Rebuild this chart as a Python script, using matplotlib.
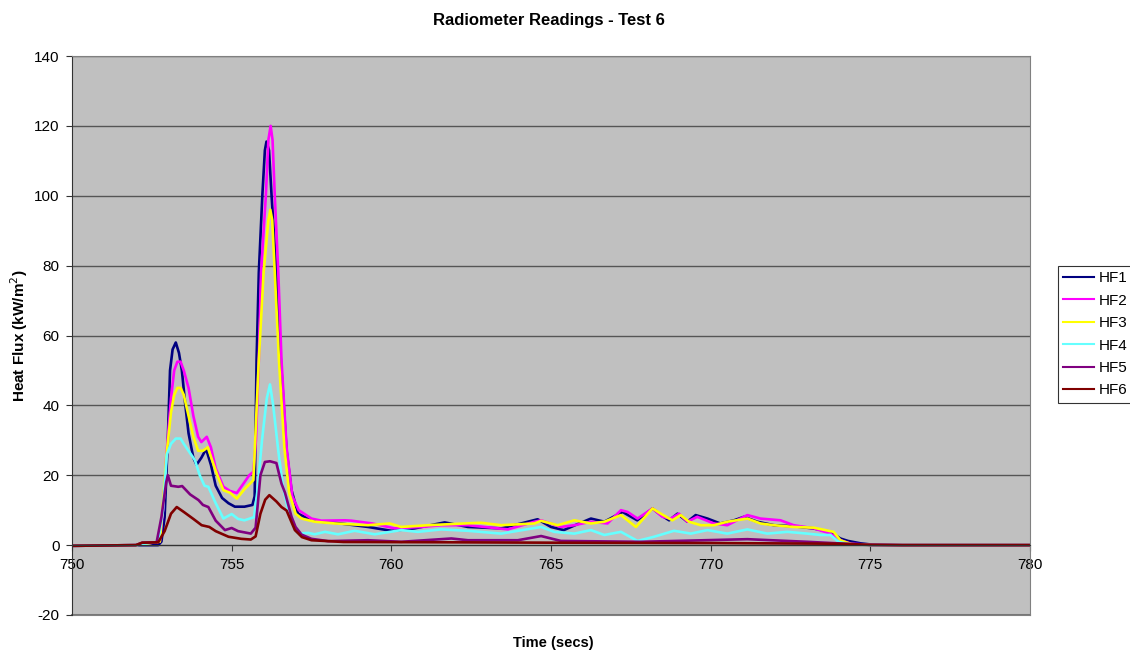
import matplotlib
matplotlib.use("Agg")
import matplotlib.pyplot as plt

plt.rcParams['font.family'] = ['Liberation Sans', 'DejaVu Sans']
plt.rcParams['axes.unicode_minus'] = False

title = "Radiometer Readings - Test 6"
xlabel = "Time (secs)"
ylabel = "Heat Flux (kW/m$^2$)"
series_names = ["HF1", "HF2", "HF3", "HF4", "HF5", "HF6"]
series_colors = ["#000080", "#FF00FF", "#FFFF00", "#66FFFF", "#800080", "#800000"]
x_ticks = [750, 755, 760, 765, 770, 775, 780]
y_ticks = [-20, 0, 20, 40, 60, 80, 100, 120, 140]

hf1_t = [750, 751, 752, 752.7, 752.8, 752.9, 753.0, 753.07, 753.15, 753.25, 753.35, 753.44, 753.55, 753.65, 753.8,
         753.9, 754.05, 754.2, 754.35, 754.5, 754.7, 754.9, 755.1, 755.4, 755.65, 755.72, 755.78, 755.85, 755.96,
         756.04, 756.09, 756.17, 756.25, 756.4, 756.54, 756.72, 756.875, 757.08, 757.5, 757.81, 758.23, 759.27,
         760.0, 760.73, 761.67, 762.4, 763.44, 764.06, 764.58, 765.0, 765.4, 765.83, 766.25, 766.67, 767.24,
         767.7, 768.18, 768.44, 768.7, 768.96, 769.27, 769.53, 769.9, 770.3, 770.73, 771.04, 771.46, 771.98,
         772.6, 773.2, 773.75, 774.06, 774.3, 774.7, 775.0, 776, 778, 780]
hf1_v = [-0.2, -0.1, 0, 0, 1, 8, 30, 50, 56, 58, 55, 50, 40, 32, 25,
         23, 25, 27.5, 23, 17, 13.5, 12, 11, 11, 11.5, 14, 53, 78, 100,
         113, 115.5, 113, 100, 78, 53, 27, 15.7, 9, 7.1, 6.7, 6.4, 5.2,
         4.1, 4.8, 6.5, 5.2, 4.8, 6.2, 7.4, 5.2, 4.3, 6.0, 7.6, 6.7, 9.5,
         7.1, 10.5, 8.6, 7.1, 9.0, 6.7, 8.6, 7.6, 6.2, 7.1, 8.1, 6.7, 5.7,
         5.4, 4.8, 3.8, 1.9, 1.2, 0.5, 0.2, 0, 0, 0]

hf2_t = [750, 751, 752, 752.75, 752.85, 752.95, 753.1, 753.2, 753.3, 753.4, 753.5, 753.65, 753.8, 753.95, 754.05,
         754.22, 754.35, 754.5, 754.74, 754.95, 755.16, 755.4, 755.55, 755.68, 755.76, 755.85, 755.92, 756.07,
         756.15, 756.22, 756.28, 756.35, 756.46, 756.56, 756.72, 756.9, 757.1, 757.5, 757.81, 758.54, 758.75,
         759.4, 760.1, 760.94, 761.56, 762.4, 763.65, 764.48, 764.69, 765.31, 765.73, 766.25, 766.77, 767.19,
         767.4, 767.71, 768.18, 768.49, 768.75, 769.01, 769.27, 769.58, 770.1, 770.52, 771.15, 771.56, 772.19,
         772.6, 773.23, 773.75, 774.06, 774.4, 775.0, 776, 778, 780]
hf2_v = [-0.2, -0.1, 0, 1, 10, 25, 42, 50, 52.5, 52.5, 50, 45, 37, 31, 29.5,
         31, 28, 22, 16.7, 15.5, 14.9, 18, 20, 21, 30, 53, 78, 100,
         116, 120, 116, 100, 78, 53, 28, 14, 10, 7.6, 7.0, 7.1, 7.0,
         6.2, 4.8, 5.2, 5.7, 5.7, 4.5, 6.7, 7.1, 5.2, 5.7, 6.7, 6.2, 10,
         9.5, 7.6, 10.5, 8.1, 7.6, 9.0, 6.7, 8.1, 6.2, 5.7, 8.6, 7.6, 7.1,
         5.7, 4.8, 3.3, 1.4, 0.4, 0.1, 0, 0, 0]

hf3_t = [750, 751, 752, 752.75, 752.85, 752.95, 753.1, 753.2, 753.3, 753.4, 753.5, 753.65, 753.8, 753.95, 754.1,
         754.25, 754.4, 754.55, 754.74, 754.95, 755.16, 755.4, 755.68, 755.85, 756.0, 756.15, 756.21, 756.27,
         756.35, 756.48, 756.65, 756.8, 757.0, 757.19, 757.6, 758.23, 759.27, 759.95, 760.31, 761.15, 762.3,
         762.81, 763.44, 764.48, 764.69, 765.21, 765.73, 766.25, 766.67, 767.19, 767.66, 768.18, 768.44, 768.8,
         769.06, 769.32, 769.69, 770.1, 770.52, 771.15, 771.56, 771.98, 772.6, 773.23, 773.85, 774.06, 774.4,
         775.0, 776, 778, 780]
hf3_v = [-0.2, -0.1, 0, 1, 12, 25, 38, 43, 45, 45, 43, 37, 31, 27, 27,
         28, 24, 20, 15.7, 15, 13.3, 16, 18.6, 53, 78, 93, 96, 93,
         78, 53, 28, 15, 9, 7.6, 6.7, 6.2, 5.7, 6.2, 5.2, 5.7, 6.2,
         6.4, 5.7, 6.2, 6.95, 5.7, 7.1, 6.2, 6.7, 8.6, 5.2, 10.5, 9.0, 7.1,
         8.6, 6.7, 5.7, 5.7, 6.7, 7.6, 6.2, 5.7, 5.2, 5.0, 3.8, 1.4, 0.3,
         0, 0, 0, 0]

hf4_t = [750, 751, 752, 752.7, 752.85, 752.97, 753.1, 753.25, 753.4, 753.5, 753.85, 754.0, 754.15, 754.27, 754.5,
         754.74, 755.0, 755.2, 755.4, 755.7, 755.8, 755.95, 756.1, 756.2, 756.3, 756.46, 756.6, 756.77, 756.95,
         757.08, 757.4, 757.6, 757.92, 758.33, 758.85, 759.48, 760.31, 760.83, 761.56, 762.4, 763.44, 764.69,
         765.1, 765.73, 766.25, 766.67, 767.19, 767.71, 768.23, 768.85, 769.38, 769.9, 770.52, 771.15, 771.77,
         772.4, 773.02, 773.44, 773.75, 774.0, 774.3, 775.0, 776, 778, 780]
hf4_v = [-0.2, -0.1, 0, 1, 10, 26, 29, 30.5, 30.5, 29, 24.3, 20, 17, 16.7, 12,
         7.6, 8.9, 7.5, 7.1, 8, 15, 30, 42, 46, 40, 27, 17, 10, 5,
         3.3, 3.5, 3.1, 3.8, 3.1, 4.1, 3.1, 4.3, 3.8, 4.5, 4.1, 3.3, 5.2,
         3.8, 3.3, 4.3, 2.9, 3.8, 1.2, 2.4, 4.1, 3.3, 4.3, 3.3, 4.5, 3.3,
         3.8, 3.3, 2.9, 2.9, 1.0, 0.3, 0, 0, 0, 0]

hf5_t = [750, 751, 752, 752.2, 752.65, 752.8, 752.95, 753.0, 753.1, 753.33, 753.45, 753.7, 753.96, 754.1,
         754.27, 754.5, 754.79, 755.0, 755.2, 755.6, 755.75, 755.9, 756.04, 756.2, 756.4, 756.56, 756.67,
         756.875, 757.0, 757.19, 757.5, 758.02, 759.27, 760.31, 761.88, 762.4, 763.96, 764.69, 765.31, 767.8,
         771.15, 773.02, 774.0, 775.0, 776, 778, 780]
hf5_v = [-0.2, -0.1, 0, 0.7, 0.8, 8, 18, 20, 17, 16.7, 16.9, 14.5, 12.9, 11.5,
         10.9, 7, 4.3, 4.9, 4.0, 3.3, 5, 20, 23.8, 24, 23.5, 17.6, 15,
         8.1, 5.2, 3.0, 1.8, 1.14, 1.4, 0.95, 1.9, 1.4, 1.4, 2.6, 1.2, 0.95,
         1.7, 0.95, 0.5, 0, 0, 0, 0]

hf6_t = [750, 751, 752, 752.2, 752.7, 752.9, 753.1, 753.28, 753.5, 753.8, 754.06, 754.3, 754.5, 754.9, 755.3,
         755.6, 755.75, 755.9, 756.05, 756.18, 756.4, 756.56, 756.72, 756.98, 757.2, 757.5, 758.5, 762.0,
         765.0, 770.0, 774.0, 775.0, 776, 778, 780]
hf6_v = [-0.2, -0.1, 0, 0.7, 0.8, 4, 9, 10.9, 9.5, 7.5, 5.7, 5.2, 4, 2.4, 1.8,
         1.6, 2.5, 9, 13, 14.3, 12.5, 10.9, 9.9, 4.3, 2.3, 1.4, 0.9, 0.8,
         0.7, 0.6, 0.4, 0.1, 0, 0, 0]

series_t = [hf1_t, hf2_t, hf3_t, hf4_t, hf5_t, hf6_t]
series_v = [hf1_v, hf2_v, hf3_v, hf4_v, hf5_v, hf6_v]

fig = plt.figure(figsize=(11.3, 6.52), dpi=100)
ax = fig.add_axes([72 / 1130, 1 - 615 / 652, (1030 - 72) / 1130, (615 - 56) / 652])
ax.set_facecolor("#C0C0C0")

for t, v, name, col in zip(series_t, series_v, series_names, series_colors):
    ax.plot(t, v, color=col, lw=1.9, label=name, solid_joinstyle='round')

ax.set_xlim(750, 780)
ax.set_ylim(-20, 140)
ax.set_xticks(x_ticks)
ax.set_yticks(y_ticks)
ax.yaxis.grid(True, color="#555555", lw=1.0)
ax.set_axisbelow(True)

ax.spines['bottom'].set_position(('data', 0))
ax.spines['bottom'].set_color("#333333")
ax.spines['left'].set_color("#333333")
for s in ['top', 'right']:
    ax.spines[s].set_color("#808080")
ax.plot([750, 780], [-20, -20], color="#808080", lw=1.5, clip_on=False, zorder=0)

ax.tick_params(axis='both', labelsize=11, length=4, direction='out', color="#333333")
ax.tick_params(axis='y', pad=5)
ax.tick_params(axis='x', pad=5)

fig.text(549 / 1130, 1 - 21 / 652, title, ha='center', va='center', fontsize=12, fontweight='bold')
fig.text(553 / 1130, 1 - 643 / 652, xlabel, ha='center', va='center', fontsize=10.5, fontweight='bold')
fig.text(19 / 1130, 1 - 336 / 652, ylabel, ha='center', va='center', fontsize=11, fontweight='bold',
         rotation=90)

leg = ax.legend(loc='upper left', bbox_to_anchor=(1058 / 1130, 1 - 266 / 652), bbox_transform=fig.transFigure,
                frameon=True, fancybox=False, fontsize=11, handlelength=2.0, handletextpad=0.3,
                labelspacing=0.55, borderpad=0.35, borderaxespad=0)
leg.get_frame().set_edgecolor("black")
leg.get_frame().set_linewidth(0.8)
for line in leg.get_lines():
    line.set_linewidth(1.5)

fig.savefig("out.png", dpi=100)
